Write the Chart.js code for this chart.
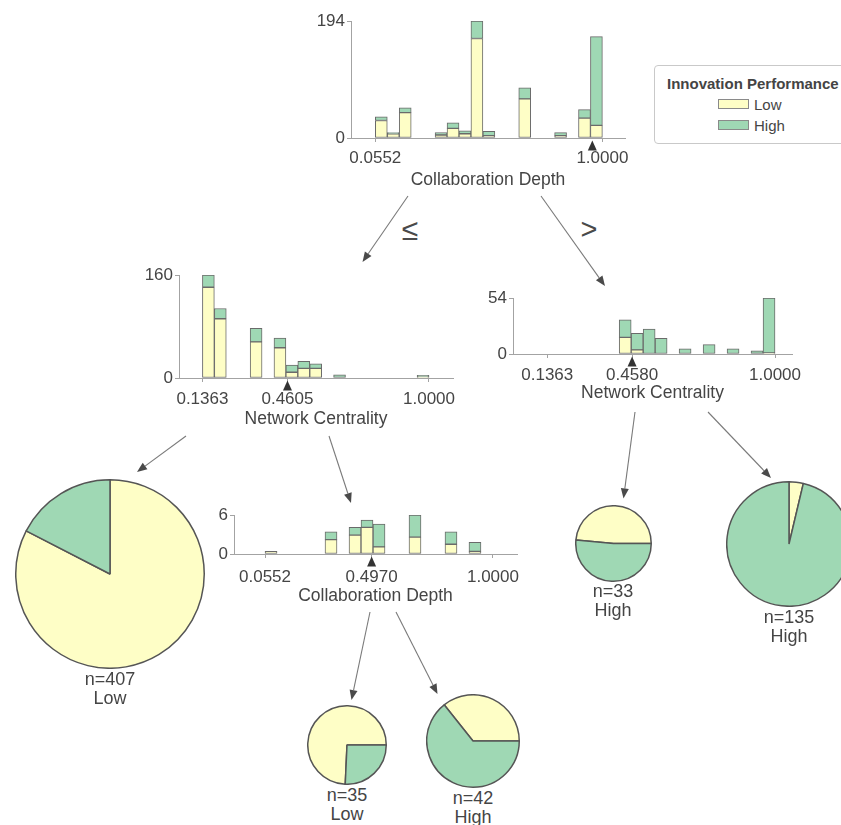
<!DOCTYPE html>
<html lang="en">
<head>
<meta charset="utf-8">
<title>Innovation Performance – decision tree</title>
<script src="https://cdn.jsdelivr.net/npm/chart.js@4.4.1/dist/chart.umd.min.js"></script>
<style>
  html, body { margin: 0; padding: 0; background: #fff; }
  #stage {
    position: relative; width: 841px; height: 825px; overflow: hidden;
    font-family: "Liberation Sans", Arial, Helvetica, sans-serif; color: #454545;
  }
  #stage canvas { position: absolute; }
  #links { position: absolute; left: 0; top: 0; }
  .txt { position: absolute; transform: translate(-50%, -50%); white-space: nowrap; line-height: 1; }
  .ltxt { position: absolute; transform: translateY(-50%); white-space: nowrap; line-height: 1; }
  .legend-box { position: absolute; border: 1px solid #c9c9c9; border-radius: 4px; background: #fff; box-sizing: border-box; }
  .swatch { position: absolute; box-sizing: border-box; border: 1px solid #8a8a8a; }
</style>
</head>
<body>
<div id="stage">
  <svg id="links" width="841" height="825"></svg>
  <canvas id="hRoot"></canvas>
  <canvas id="hNcLeft"></canvas>
  <canvas id="hNcRight"></canvas>
  <canvas id="hCdSub"></canvas>
</div>
<script>
// ---------------- data ----------------
const classNames = ['Low', 'High'];

// Root node: Collaboration Depth (bin centres, stacked counts per class)
const rootBins  = [0.0801, 0.1298, 0.1796, 0.3287, 0.3785, 0.4282, 0.4779, 0.5277, 0.6768, 0.8260, 0.9254, 0.9751];
const rootLow   = [29, 7, 42, 5, 16, 7, 165, 4, 65, 4, 33, 21];
const rootHigh  = [6, 2, 8, 4, 9, 5, 29, 7, 18, 5, 14, 147];
const rootTicks = [0.0552, 1.0];
const rootMax   = 194;
const rootSplit = 0.958;

// Left child: Network Centrality
const ncLeftBins  = [0.1590, 0.2045, 0.3409, 0.4318, 0.4772, 0.5227, 0.5681, 0.6590, 0.9773];
const ncLeftLow   = [141, 92, 56, 47, 9, 15, 15, 0, 2];
const ncLeftHigh  = [19, 16, 21, 15, 11, 11, 7, 5, 2];
const ncLeftTicks = [0.1363, 0.4605, 1.0];
const ncLeftMax   = 160;
const ncLeftSplit = 0.4605;

// Right child: Network Centrality
const ncRightBins  = [0.4318, 0.4772, 0.5227, 0.5681, 0.6590, 0.7500, 0.8409, 0.9318, 0.9773];
const ncRightLow   = [16, 4, 0, 0, 0, 0, 0, 0, 1];
const ncRightHigh  = [17, 16, 24, 15, 5, 9, 5, 3, 53];
const ncRightTicks = [0.1363, 0.4580, 1.0];
const ncRightMax   = 54;
const ncRightSplit = 0.4580;

// Inner node: Collaboration Depth
const cdSubBins  = [0.0801, 0.3287, 0.4282, 0.4779, 0.5277, 0.6768, 0.8260, 0.9254];
const cdSubLow   = [0.4, 2.2, 2.9, 4.1, 1.1, 2.6, 1.5, 0.4];
const cdSubHigh  = [0, 1.2, 1.2, 1.1, 3.5, 3.4, 1.9, 1.4];
const cdSubTicks = [0.0552, 0.4970, 1.0];
const cdSubMax   = 6;
const cdSubSplit = 0.4970;

// Leaves: [Low, High]
const leaf407 = [336, 71];
const leaf35  = [26, 9];
const leaf42  = [15, 27];
const leaf33  = [16, 17];
const leaf135 = [5, 130];

// ---------------- styling ----------------
const FONT = '"Liberation Sans", Arial, Helvetica, sans-serif';
const INK = '#454545';
const AXIS = '#a3a3a3';
const CLASS_COLORS = ['#fefec6', '#9fd8b4'];
const BAR_EDGE = '#6a6a6a';
const PIE_EDGE = '#555555';

Chart.defaults.font.family = FONT;
Chart.defaults.color = INK;

// ---------------- layout ----------------
const histLayout = {
  hRoot:    { l: 351, r: 625, t: 21,  b: 138, xMin: -0.046,  xMax: 1.094,  tickPad: 6, titleY: 180.5 },
  hNcLeft:  { l: 179, r: 453, t: 275, b: 378, xMin: 0.047,   xMax: 1.0915, tickPad: 7, titleY: 419.5 },
  hNcRight: { l: 513, r: 792, t: 298, b: 354, xMin: 0.0064,  xMax: 1.0644, tickPad: 7, titleY: 393.5 },
  hCdSub:   { l: 234, r: 517, t: 515, b: 554, xMin: -0.0734, xMax: 1.0996, tickPad: 9, titleY: 596.5 }
};

const histNodes = [
  { canvas: 'hRoot',    attr: 'Collaboration Depth', bins: rootBins,    low: rootLow,    high: rootHigh,    ticks: rootTicks,    yMax: rootMax,    split: rootSplit },
  { canvas: 'hNcLeft',  attr: 'Network Centrality',  bins: ncLeftBins,  low: ncLeftLow,  high: ncLeftHigh,  ticks: ncLeftTicks,  yMax: ncLeftMax,  split: ncLeftSplit },
  { canvas: 'hNcRight', attr: 'Network Centrality',  bins: ncRightBins, low: ncRightLow, high: ncRightHigh, ticks: ncRightTicks, yMax: ncRightMax, split: ncRightSplit },
  { canvas: 'hCdSub',   attr: 'Collaboration Depth', bins: cdSubBins,   low: cdSubLow,   high: cdSubHigh,   ticks: cdSubTicks,   yMax: cdSubMax,   split: cdSubSplit }
];

// Low slice either starts at 12 o'clock or finishes at 3 o'clock
const leafNodes = [
  { dist: leaf407, anchor: 'top',   cx: 110, cy: 574, r: 94 },
  { dist: leaf35,  anchor: 'right', cx: 347, cy: 745, r: 39 },
  { dist: leaf42,  anchor: 'right', cx: 473, cy: 741, r: 46 },
  { dist: leaf33,  anchor: 'right', cx: 613, cy: 543, r: 37.5 },
  { dist: leaf135, anchor: 'top',   cx: 789, cy: 544, r: 62 }
];

// tree edges (start -> arrow tip)
const edgeLayout = [
  [408, 196, 362.5, 262],
  [541, 196, 605, 286],
  [186, 436, 137, 472],
  [329, 436, 351, 503],
  [635, 412, 623.5, 498.5],
  [708, 412, 771, 478],
  [370, 612, 351.5, 700],
  [396, 612, 437.5, 694]
];

const branchSigns = [
  { text: '\u2264', x: 410, y: 230, size: 30 },
  { text: '>',      x: 589, y: 229, size: 29 }
];

// ---------------- plugins ----------------
const splitMarker = {
  id: 'splitMarker',
  afterDraw(chart, _args, opts) {
    if (opts.value === undefined || opts.value === null) return;
    const { ctx, chartArea } = chart;
    const x = chart.scales.x.getPixelForValue(opts.value);
    const y = chartArea.bottom;
    ctx.save();
    ctx.fillStyle = '#333';
    ctx.beginPath();
    ctx.moveTo(x, y + 2.5);
    ctx.lineTo(x + 4.5, y + 12.5);
    ctx.lineTo(x - 4.5, y + 12.5);
    ctx.closePath();
    ctx.fill();
    ctx.restore();
  }
};

// ---------------- histograms ----------------
function drawHistogram(node) {
  const box = histLayout[node.canvas];
  const cv = document.getElementById(node.canvas);
  const yw = 44, padTop = 14, padRight = 34;
  const titleHalf = 10.5;
  const xh = box.titleY + titleHalf - box.b;
  const exactH = padTop + (box.b - box.t) + xh;
  cv.width = Math.round(yw + (box.r - box.l) + padRight);
  cv.height = Math.ceil(exactH);
  cv.style.left = (box.l - yw) + 'px';
  cv.style.top = (box.t - padTop) + 'px';

  const toPoints = vals => node.bins.map((x, i) => ({ x, y: vals[i] ? vals[i] : null }));
  const tickFont = { family: FONT, size: 17 };

  new Chart(cv, {
    type: 'bar',
    data: {
      datasets: [
        { label: classNames[0], data: toPoints(node.low),  backgroundColor: CLASS_COLORS[0] },
        { label: classNames[1], data: toPoints(node.high), backgroundColor: CLASS_COLORS[1] }
      ]
    },
    options: {
      responsive: false,
      animation: false,
      devicePixelRatio: 1,
      events: [],
      layout: { padding: { left: 0, top: padTop, right: padRight, bottom: cv.height - exactH } },
      datasets: {
        bar: {
          borderColor: BAR_EDGE, borderWidth: 1, borderSkipped: false,
          barPercentage: 1, categoryPercentage: 1
        }
      },
      scales: {
        x: {
          type: 'linear', stacked: true, offset: false,
          min: box.xMin, max: box.xMax,
          afterBuildTicks: s => { s.ticks = node.ticks.map(v => ({ value: v })); },
          afterFit: s => { s.height = xh; s.paddingLeft = 0; s.paddingRight = 0; },
          ticks: {
            autoSkip: false, maxRotation: 0, minRotation: 0,
            padding: box.tickPad, font: tickFont, color: INK,
            callback: v => Number(v).toFixed(4)
          },
          grid: { display: true, drawOnChartArea: false, drawTicks: true, tickLength: 4, color: AXIS, offset: false },
          border: { display: true, color: AXIS, width: 1 },
          title: { display: true, text: node.attr, font: { family: FONT, size: 17.5 }, color: INK, padding: 0 }
        },
        y: {
          type: 'linear', stacked: true, min: 0, max: node.yMax,
          afterBuildTicks: s => { s.ticks = [{ value: 0 }, { value: node.yMax }]; },
          afterFit: s => { s.width = yw; s.paddingTop = 0; s.paddingBottom = 0; },
          ticks: { autoSkip: false, padding: 2, font: tickFont, color: INK, callback: v => String(v) },
          grid: { display: true, drawOnChartArea: false, drawTicks: true, tickLength: 4, color: AXIS },
          border: { display: true, color: AXIS, width: 1 }
        }
      },
      plugins: {
        legend: { display: false },
        tooltip: { enabled: false },
        splitMarker: { value: node.split }
      }
    },
    plugins: [splitMarker]
  });
}

histNodes.forEach(drawHistogram);

// ---------------- leaves ----------------
const stage = document.getElementById('stage');

function addText(text, x, y, size, extra) {
  const d = document.createElement('div');
  d.className = 'txt';
  d.textContent = text;
  d.style.left = x + 'px';
  d.style.top = y + 'px';
  d.style.fontSize = size + 'px';
  if (extra) Object.assign(d.style, extra);
  stage.appendChild(d);
  return d;
}

leafNodes.forEach(leaf => {
  const bw = 1.5;
  const side = Math.ceil(2 * leaf.r + bw);
  const cv = document.createElement('canvas');
  cv.width = side; cv.height = side;
  cv.style.left = (leaf.cx - side / 2) + 'px';
  cv.style.top = (leaf.cy - side / 2) + 'px';
  stage.appendChild(cv);

  const n = leaf.dist.reduce((a, b) => a + b, 0);
  const lowDeg = 360 * leaf.dist[0] / n;
  const rotation = leaf.anchor === 'top' ? 0 : 90 - lowDeg;

  new Chart(cv, {
    type: 'pie',
    data: {
      labels: classNames,
      datasets: [{
        data: leaf.dist,
        backgroundColor: CLASS_COLORS,
        borderColor: PIE_EDGE,
        borderWidth: bw,
        offset: 0,
        hoverOffset: 0
      }]
    },
    options: {
      responsive: false,
      animation: false,
      devicePixelRatio: 1,
      events: [],
      rotation: rotation,
      layout: { padding: 0 },
      plugins: { legend: { display: false }, tooltip: { enabled: false } }
    }
  });

  const majority = leaf.dist[1] > leaf.dist[0] ? classNames[1] : classNames[0];
  const nY = leaf.cy + leaf.r + 10.5;
  addText('n=' + n, leaf.cx, nY, 18);
  addText(majority, leaf.cx, nY + 19, 18);
});

// ---------------- edges ----------------
const svgNS = 'http://www.w3.org/2000/svg';
const svg = document.getElementById('links');
edgeLayout.forEach(([x1, y1, x2, y2]) => {
  const ang = Math.atan2(y2 - y1, x2 - x1);
  const hl = 10, hw = 4;
  const bx = x2 - hl * Math.cos(ang), by = y2 - hl * Math.sin(ang);
  const line = document.createElementNS(svgNS, 'line');
  line.setAttribute('x1', x1); line.setAttribute('y1', y1);
  line.setAttribute('x2', bx); line.setAttribute('y2', by);
  line.setAttribute('stroke', '#7a7a7a'); line.setAttribute('stroke-width', '1.1');
  svg.appendChild(line);
  const head = document.createElementNS(svgNS, 'polygon');
  const px = -Math.sin(ang) * hw, py = Math.cos(ang) * hw;
  head.setAttribute('points', `${x2},${y2} ${bx + px},${by + py} ${bx - px},${by - py}`);
  head.setAttribute('fill', '#4a4a4a');
  svg.appendChild(head);
});

branchSigns.forEach(s => addText(s.text, s.x, s.y, s.size, { color: '#4a4a4a' }));

// ---------------- legend ----------------
(function legend() {
  const box = document.createElement('div');
  box.className = 'legend-box';
  Object.assign(box.style, { left: '654px', top: '65px', width: '210px', height: '79px' });
  stage.appendChild(box);

  const title = document.createElement('div');
  title.className = 'ltxt';
  title.textContent = 'Innovation Performance';
  Object.assign(title.style, { left: '667px', top: '82.5px', fontSize: '15px', fontWeight: 'bold', color: '#444' });
  stage.appendChild(title);

  classNames.forEach((name, i) => {
    const y = 104 + i * 20.5;
    const sw = document.createElement('div');
    sw.className = 'swatch';
    Object.assign(sw.style, { left: '718px', top: (y - 5) + 'px', width: '31px', height: '10px', background: CLASS_COLORS[i] });
    stage.appendChild(sw);
    const t = document.createElement('div');
    t.className = 'ltxt';
    t.textContent = name;
    Object.assign(t.style, { left: '754px', top: y + 'px', fontSize: '15px' });
    stage.appendChild(t);
  });
})();
</script>
</body>
</html>
